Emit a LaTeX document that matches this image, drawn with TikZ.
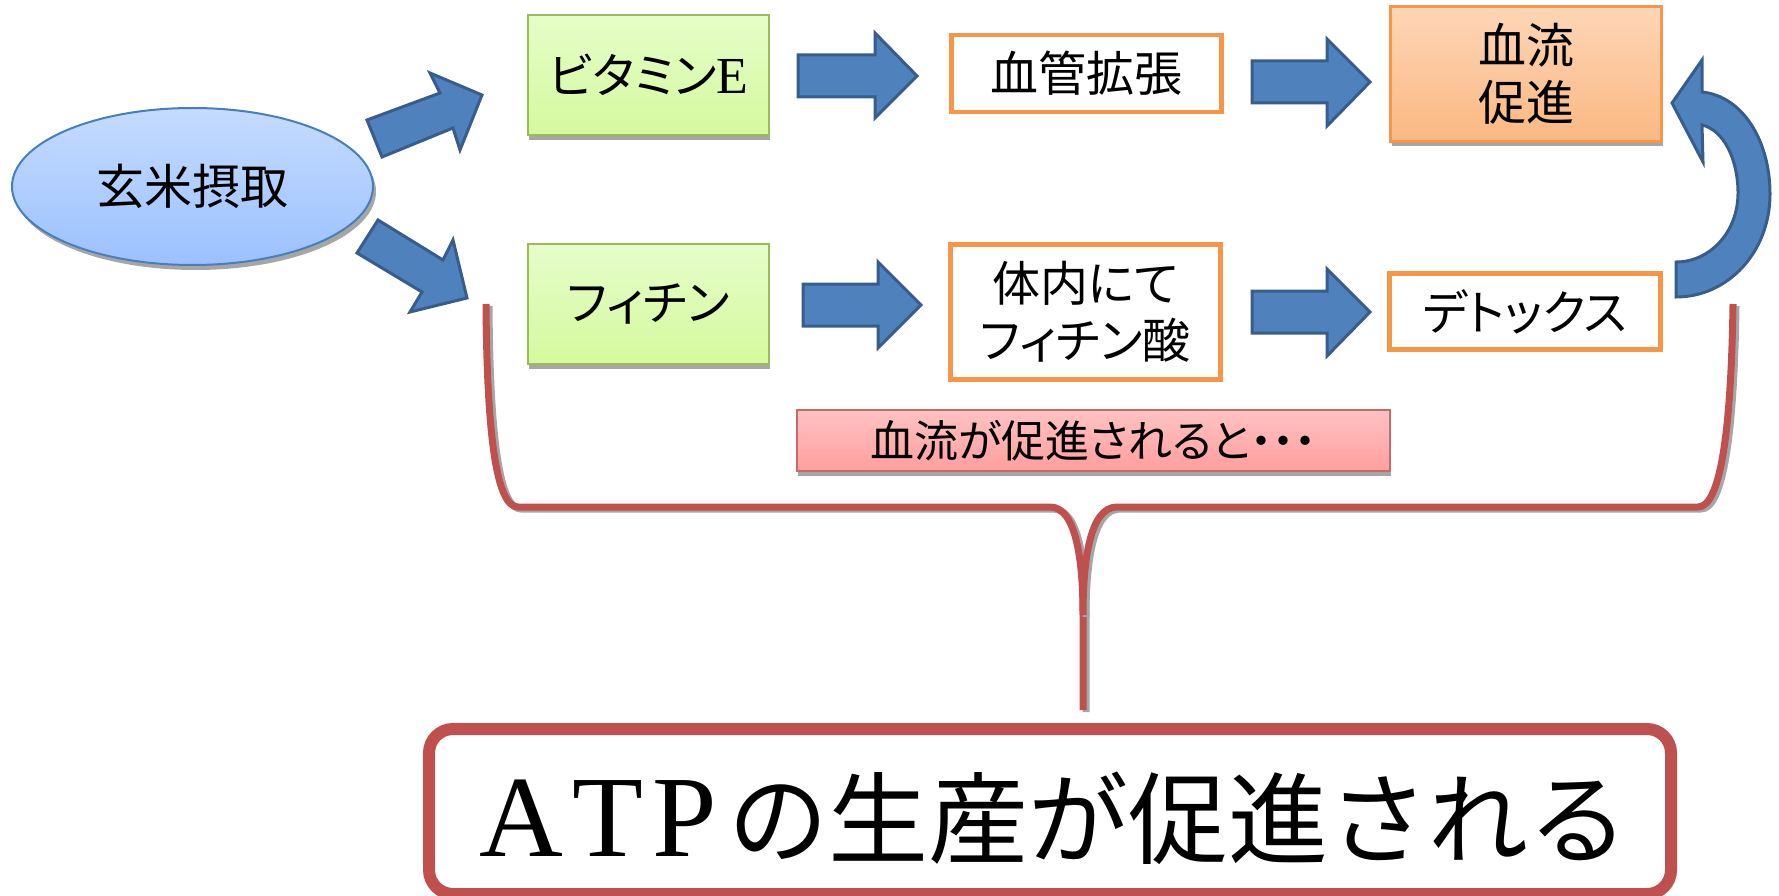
\documentclass[tikz,border=0pt]{standalone}
\usepackage{fontspec}
\newfontfamily\JPfont[RawFeature=+palt]{Noto Sans CJK JP}
\newfontfamily\JPwide{Noto Sans CJK JP}
\newfontfamily\LATfont{Liberation Serif}
\usetikzlibrary{shapes.geometric,shadows}
\definecolor{arrowblue}{HTML}{4F81BD}
\definecolor{arrowedge}{HTML}{385D8A}
\definecolor{orangeedge}{HTML}{F79646}
\definecolor{greenedge}{HTML}{9BBB59}
\definecolor{greentop}{HTML}{E6FDC9}
\definecolor{greenbot}{HTML}{D5F99E}
\definecolor{peachtop}{HTML}{FDD6B6}
\definecolor{peachbot}{HTML}{FAB882}
\definecolor{pinktop}{HTML}{FFC2C2}
\definecolor{pinkbot}{HTML}{FF9E9E}
\definecolor{bluetop}{HTML}{C4DBFF}
\definecolor{bluebot}{HTML}{9CC1FF}
\definecolor{ellipseedge}{HTML}{4A7EBB}
\definecolor{redline}{HTML}{C0504D}
\definecolor{shadowgray}{HTML}{A6A6A6}
\newcommand\JPmid{\JPfont\fontsize{48pt}{59pt}\selectfont}
\newcommand\JPsmall{\JPfont\fontsize{44pt}{52pt}\selectfont}
\begin{document}
\begin{tikzpicture}[x=1pt,y=-1pt,
  blockarrow/.style={fill=arrowblue,draw=arrowedge,line width=3pt,line join=miter},
  boxshadow/.style={drop shadow={shadow xshift=1pt,shadow yshift=-5pt,fill=shadowgray,opacity=1}},
  greenbox/.style={rectangle,draw=greenedge,line width=2pt,top color=greentop,bottom color=greenbot,boxshadow,font=\JPmid,inner sep=0pt},
  orangebox/.style={rectangle,draw=orangeedge,line width=4.5pt,fill=white,font=\JPmid,align=center,inner sep=0pt},
  peachbox/.style={rectangle,draw=orangeedge,line width=3pt,top color=peachtop,bottom color=peachbot,boxshadow,font=\JPmid,align=center,inner sep=0pt},
  pinkbox/.style={rectangle,draw=redline!85,line width=2pt,top color=pinktop,bottom color=pinkbot,boxshadow,font=\JPsmall,inner sep=0pt},
  bracelink/.style={draw=redline,line width=7pt,line join=round,
     preaction={draw=shadowgray,line width=7pt,transform canvas={shift={(3pt,-2pt)}}}},
  resultbox/.style={draw=redline,line width=12pt,fill=white,rounded corners=24pt}
]
\useasboundingbox (0,0) rectangle (1779,896);

% --- nodes ---
\node[ellipse,draw=ellipseedge,line width=2pt,top color=bluetop,bottom color=bluebot,
      drop shadow={shadow xshift=3pt,shadow yshift=-5pt,fill=shadowgray,opacity=1},
      minimum width=361pt,minimum height=157pt,font=\JPmid,inner sep=0pt]
      (genmai) at (192.5,186.5) {玄米摂取};

\node[greenbox,minimum width=241pt,minimum height=120pt] (vite) at (648.5,75) {ビタミン{\LATfont\fontsize{52pt}{59pt}\selectfont E}};
\node[greenbox,minimum width=241pt,minimum height=120pt] (phytin) at (648.5,304) {フィチン};

\node[orangebox,minimum width=270pt,minimum height=77pt] (kakucho) at (1086.5,73.5) {血管拡張};
\node[peachbox,minimum width=271pt,minimum height=135pt] (ketsuryu) at (1526,74) {血流\\[-2pt]促進};
\node[orangebox,minimum width=270pt,minimum height=135pt] (phyticacid) at (1085.5,312) {体内にて\\[-2pt]フィチン酸};
\node[orangebox,minimum width=271pt,minimum height=76pt] (detox) at (1525,311.5) {デトックス};

\node[pinkbox,minimum width=593pt,minimum height=61pt] (pink) at (1093.5,440.5) {血流が促進されると・・・};

% --- result box ---
\draw[resultbox] (429,729) rectangle (1671,894);
\node[anchor=base,inner sep=0pt] (atp) at (1054,856)
   {{\LATfont\fontsize{116pt}{120pt}\selectfont A\hspace{9pt}T\hspace{9pt}P\hspace{12pt}}{\JPwide\fontsize{100pt}{110pt}\selectfont の生産が促進される}};

% --- brace connector ---
\coordinate (braceL) at (486,304);
\coordinate (braceR) at (1733,304);
\coordinate (braceTip) at (1083,710);
\draw[bracelink] (braceL) .. controls (487,440) and (497,507) .. (518,507) -- (1050,507)
   .. controls (1076,507) and (1083,560) .. (1083,615) -- (braceTip);
\draw[bracelink] (braceR) .. controls (1731,440) and (1719,507) .. (1698,507) -- (1117,507)
   .. controls (1090,507) and (1083,560) .. (1083,615);

% --- diagonal block arrows from genmai ---
\draw[blockarrow] (367,120) -- (440,93) -- (430,73) -- (482,95) -- (460,150) -- (453,128) -- (382,157) -- cycle;
\draw[blockarrow] (378,220) -- (443,260) -- (453,240) -- (467,298) -- (410,312) -- (422,292) -- (357,253) -- cycle;

% --- straight block arrows ---
\draw[blockarrow] (798,55) -- (875,55) -- (875,33) -- (917,76) -- (875,118) -- (875,97) -- (798,97) -- cycle;
\draw[blockarrow] (1252,61) -- (1327,61) -- (1327,39) -- (1370,82) -- (1327,126) -- (1327,103) -- (1252,103) -- cycle;
\draw[blockarrow] (803,284) -- (878,284) -- (878,262) -- (921,305) -- (878,348) -- (878,326) -- (803,326) -- cycle;
\draw[blockarrow] (1252,291) -- (1327,291) -- (1327,269) -- (1370,312) -- (1327,356) -- (1327,333) -- (1252,333) -- cycle;

% --- curved block arrow detox -> ketsuryu ---
\draw[blockarrow] (1676,297) .. controls (1728,297) and (1770,252) .. (1770,194)
   .. controls (1770,140) and (1742,96) .. (1702,92)
   -- (1702,60) -- (1672,103) -- (1703,162) -- (1702,125)
   .. controls (1724,130) and (1738,160) .. (1738,193)
   .. controls (1738,232) and (1710,262) .. (1676,262) -- cycle;
\end{tikzpicture}
\end{document}
